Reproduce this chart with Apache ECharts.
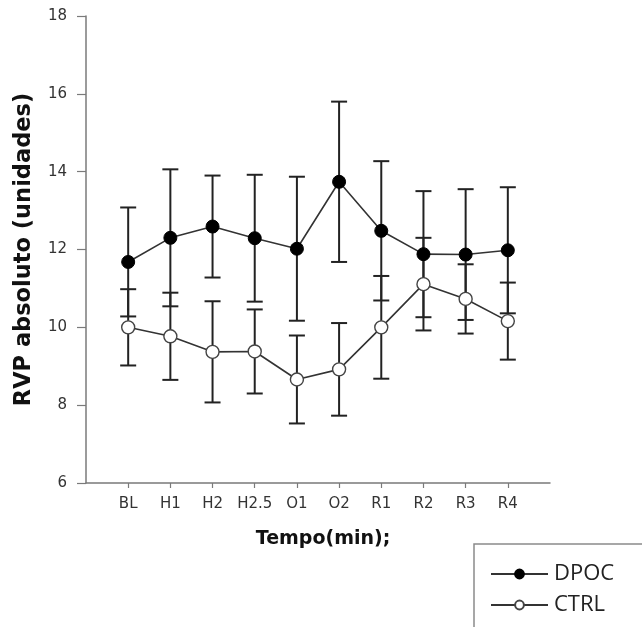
<!DOCTYPE html>
<html>
<head>
<meta charset="utf-8">
<script src="https://cdn.jsdelivr.net/npm/echarts@6/dist/echarts.min.js"></script>
<style>
html,body{margin:0;padding:0;background:#fff;}
#chart{width:642px;height:627px;}
</style>
</head>
<body>
<div id="chart"></div>
<script>
const categories = ['BL','H1','H2','H2.5','O1','O2','R1','R2','R3','R4'];
const dpocMean = [11.68, 12.30, 12.59, 12.29, 12.02, 13.74, 12.48, 11.88, 11.87, 11.98];
const dpocErr  = [1.40, 1.76, 1.31, 1.63, 1.85, 2.06, 1.79, 1.62, 1.68, 1.62];
const ctrlMean = [10.00, 9.77, 9.37, 9.38, 8.66, 8.92, 10.00, 11.11, 10.73, 10.16];
const ctrlErr  = [0.98, 1.12, 1.30, 1.08, 1.13, 1.19, 1.32, 1.19, 0.89, 0.99];
const yTicks = [6, 8, 10, 12, 14, 16, 18];

const xPos = categories.map((c, i) => i + 1);
const dpocData = xPos.map((x, i) => [x, dpocMean[i]]);
const ctrlData = xPos.map((x, i) => [x, ctrlMean[i]]);
const dpocErrData = xPos.map((x, i) => [x, dpocMean[i] - dpocErr[i], dpocMean[i] + dpocErr[i]]);
const ctrlErrData = xPos.map((x, i) => [x, ctrlMean[i] - ctrlErr[i], ctrlMean[i] + ctrlErr[i]]);

function errRender(params, api) {
  const x = api.value(0);
  const lo = api.coord([x, api.value(1)]);
  const hi = api.coord([x, api.value(2)]);
  const hw = 8;
  const style = {stroke: '#222', lineWidth: 2, fill: null};
  return {
    type: 'group',
    children: [
      {type: 'line', shape: {x1: lo[0], y1: lo[1], x2: hi[0], y2: hi[1]}, style: style},
      {type: 'line', shape: {x1: lo[0]-hw, y1: lo[1], x2: lo[0]+hw, y2: lo[1]}, style: style},
      {type: 'line', shape: {x1: hi[0]-hw, y1: hi[1], x2: hi[0]+hw, y2: hi[1]}, style: style}
    ]
  };
}

const chart = echarts.init(document.getElementById('chart'), null, {renderer: 'canvas'});
chart.setOption({
  backgroundColor: '#fff',
  animation: false,
  grid: {left: 86, right: 92, top: 16, bottom: 144, containLabel: false},
  graphic: [{
    type: 'rect',
    shape: {x: 474, y: 544, width: 200, height: 120},
    style: {fill: 'none', stroke: '#8a8a8a', lineWidth: 1.5},
    z: 1
  }],
  legend: {
    data: ['DPOC', 'CTRL'],
    orient: 'vertical',
    left: 485,
    top: 558,
    itemWidth: 57,
    itemHeight: 11,
    itemGap: 9,
    textStyle: {fontFamily: 'Open Sans', fontSize: 22, color: '#222', padding: [0, 0, 0, 1]}
  },
  xAxis: {
    type: 'value',
    min: 0, max: 11, interval: 1,
    name: 'Tempo(min);',
    nameLocation: 'middle',
    nameGap: 47,
    nameTextStyle: {fontFamily: 'DejaVu Sans', fontWeight: 'bold', fontSize: 19, color: '#111', padding: [0, 0, 0, 10]},
    axisLine: {show: true, lineStyle: {color: '#7a7a7a', width: 1.5}},
    axisTick: {show: true, length: 5, customValues: xPos, lineStyle: {color: '#7a7a7a', width: 1.2}},
    axisLabel: {
      customValues: xPos,
      margin: 14,
      fontFamily: 'DejaVu Sans', fontSize: 15, color: '#333',
      formatter: v => categories[Math.round(v) - 1] || ''
    },
    splitLine: {show: false}
  },
  yAxis: {
    type: 'value',
    min: 6, max: 18, interval: 2,
    name: 'RVP absoluto (unidades)',
    nameLocation: 'middle',
    nameGap: 50,
    nameRotate: 90,
    nameTextStyle: {fontFamily: 'DejaVu Sans', fontWeight: 'bold', fontSize: 22.5, color: '#111'},
    axisLine: {show: true, lineStyle: {color: '#7a7a7a', width: 1.5}},
    axisTick: {show: true, length: 9, lineStyle: {color: '#7a7a7a', width: 1.2}},
    axisLabel: {
      customValues: yTicks,
      margin: 19,
      fontFamily: 'DejaVu Sans', fontSize: 15, color: '#333'
    },
    splitLine: {show: false}
  },
  series: [
    {
      type: 'custom', name: 'DPOC err', renderItem: errRender,
      data: dpocErrData, encode: {x: 0, y: [1, 2]}, z: 2, silent: true
    },
    {
      type: 'custom', name: 'CTRL err', renderItem: errRender,
      data: ctrlErrData, encode: {x: 0, y: [1, 2]}, z: 2, silent: true
    },
    {
      type: 'line', name: 'DPOC', data: dpocData,
      symbol: 'circle', symbolSize: 13,
      lineStyle: {color: '#333', width: 1.6},
      itemStyle: {color: '#000', borderColor: '#000', borderWidth: 1},
      z: 5
    },
    {
      type: 'line', name: 'CTRL', data: ctrlData,
      symbol: 'circle', symbolSize: 13,
      lineStyle: {color: '#333', width: 1.6},
      itemStyle: {color: '#fff', borderColor: '#444', borderWidth: 1.4},
      z: 4
    }
  ]
});
</script>
</body>
</html>
